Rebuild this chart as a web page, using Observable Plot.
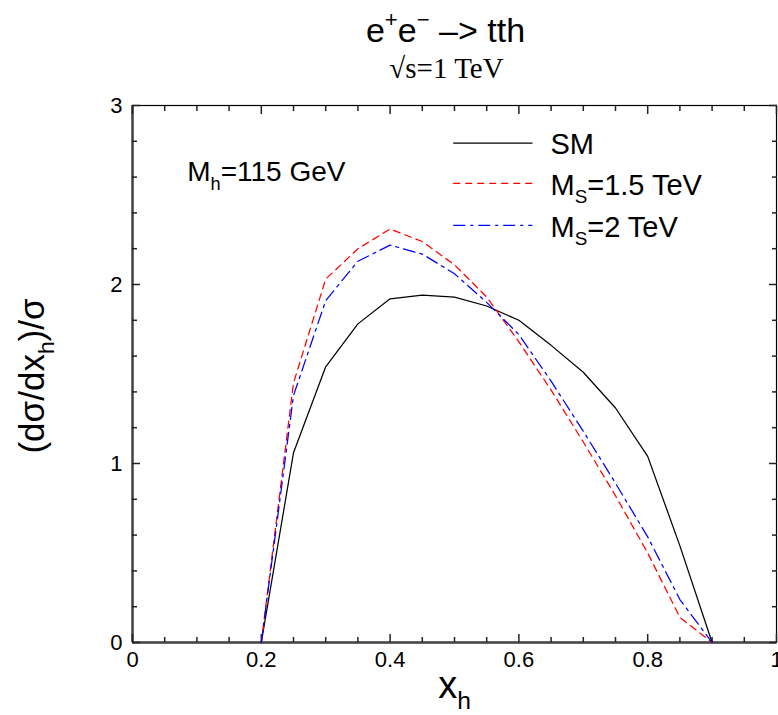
<!DOCTYPE html>
<html><head><meta charset="utf-8">
<script src="https://cdn.jsdelivr.net/npm/d3@7"></script>
<script src="https://cdn.jsdelivr.net/npm/@observablehq/plot@0.6"></script>
<style>body{margin:0;background:#fff} svg{display:block}</style>
</head><body><div id="chart"></div>
<script>
// ---- data ----
const xh = [0.2, 0.25, 0.3, 0.35, 0.4, 0.45, 0.5, 0.55, 0.6, 0.65, 0.7, 0.75, 0.8, 0.85, 0.9];
const smValues   = [0, 1.06, 1.54, 1.78, 1.92, 1.94, 1.93, 1.88, 1.80, 1.66, 1.51, 1.31, 1.04, 0.54, 0];
const ms15Values = [0, 1.45, 2.03, 2.20, 2.31, 2.24, 2.11, 1.93, 1.68, 1.41, 1.12, 0.82, 0.50, 0.14, 0];
const ms2Values  = [0, 1.38, 1.91, 2.13, 2.22, 2.17, 2.06, 1.90, 1.72, 1.46, 1.18, 0.89, 0.59, 0.24, 0];
const seriesNames = ["SM", "M_{S}=1.5 TeV", "M_{S}=2 TeV"];
const xTicks = [0, 0.2, 0.4, 0.6, 0.8, 1];
const xMinorTicks = [0.05, 0.1, 0.15, 0.25, 0.3, 0.35, 0.45, 0.5, 0.55, 0.65, 0.7, 0.75, 0.85, 0.9, 0.95];
const yTicks = [0, 1, 2, 3];
const yMinorTicks = [0.2, 0.4, 0.6, 0.8, 1.2, 1.4, 1.6, 1.8, 2.2, 2.4, 2.6, 2.8];
const titleText = "e^{+}e^{−} –> tth";
const subtitleText = "√s=1 TeV";
const massLabel = "M_{h}=115 GeV";
const xLabel = "x_{h}";
const yLabel = "(dσ/dx_{h})/σ";

// ---- build table ----
const seriesValues = [smValues, ms15Values, ms2Values];
const rows = seriesNames.flatMap((name, i) => xh.map((x, j) => ({series: name, x, y: seriesValues[i][j]})));
const styles = [
  {stroke: "#000000", strokeDasharray: null},
  {stroke: "#ff0000", strokeDasharray: "7,5"},
  {stroke: "#0000ff", strokeDasharray: "12,5,3,5"}
];
const legendY = [2.79, 2.565, 2.33];
const legendRows = seriesNames.map((name, i) => ({name, y: legendY[i], i}));

const font = "'Liberation Sans', Arial, Helvetica, sans-serif";
const majorLen = 8, minorLen = 5;
const tk = {fill: "none", label: null, stroke: "#222", strokeWidth: 1.5};

const lineMarks = seriesNames.map((name, i) =>
  Plot.line(rows.filter(d => d.series === name), {
    x: "x", y: "y", stroke: styles[i].stroke, strokeWidth: 1.25,
    strokeDasharray: styles[i].strokeDasharray, strokeLinejoin: "miter"
  }));
const legendLines = legendRows.map(r =>
  Plot.link([r], {x1: () => 0.498, x2: () => 0.621, y1: "y", y2: "y",
    stroke: styles[r.i].stroke, strokeWidth: 1.25, strokeDasharray: styles[r.i].strokeDasharray}));

const chart = Plot.plot({
  width: 778, height: 715,
  marginLeft: 132, marginRight: 2, marginTop: 105, marginBottom: 73,
  x: {domain: [0, 1]},
  y: {domain: [0, 3]},
  style: {fontFamily: font, background: "white", overflow: "visible", color: "black"},
  marks: [
    Plot.frame({stroke: "black", strokeWidth: 1.2}),
    Plot.ruleX([0], {stroke: "#444", strokeWidth: 2.5}),
    Plot.ruleY([0], {stroke: "#444", strokeWidth: 2.5}),
    // inward ticks on all four sides
    Plot.axisX(xMinorTicks, {anchor: "bottom", tickSize: -minorLen, ...tk}),
    Plot.axisX(xTicks, {anchor: "bottom", tickSize: -majorLen, ...tk}),
    Plot.axisX(xMinorTicks, {anchor: "top", tickSize: -minorLen, ...tk}),
    Plot.axisX(xTicks, {anchor: "top", tickSize: -majorLen, ...tk}),
    Plot.axisY(yMinorTicks, {anchor: "left", tickSize: -minorLen, ...tk}),
    Plot.axisY(yTicks, {anchor: "left", tickSize: -majorLen, ...tk}),
    Plot.axisY(yMinorTicks, {anchor: "right", tickSize: -minorLen, ...tk}),
    Plot.axisY(yTicks, {anchor: "right", tickSize: -majorLen, ...tk}),
    // tick labels
    Plot.axisX(xTicks, {anchor: "bottom", tickSize: 0, tickPadding: 9, fontSize: 22, tickFormat: d => String(d), label: null}),
    Plot.axisY(yTicks, {anchor: "left", tickSize: 0, tickPadding: 10, fontSize: 22, tickFormat: d => String(d), label: null}),
    ...lineMarks,
    ...legendLines,
    Plot.text(legendRows, {x: () => 0.649, y: "y", text: "name", textAnchor: "start", lineAnchor: "middle", fontSize: 29, dy: 2}),
    Plot.text([massLabel], {x: () => 0.085, y: () => 2.626, text: d => d, textAnchor: "start", lineAnchor: "middle", fontSize: 28}),
    Plot.text([titleText], {frameAnchor: "top", text: d => d, textAnchor: "middle", lineAnchor: "middle", fontSize: 34, dx: -9, dy: -74}),
    Plot.text([subtitleText], {frameAnchor: "top", text: d => d, textAnchor: "middle", lineAnchor: "middle", fontSize: 29, fontFamily: "'Liberation Serif', 'Times New Roman', serif", dx: -8, dy: -37}),
    Plot.text([xLabel], {frameAnchor: "bottom", text: d => d, textAnchor: "middle", lineAnchor: "middle", fontSize: 38, dy: 43}),
    Plot.text([yLabel], {frameAnchor: "left", text: d => d, textAnchor: "middle", lineAnchor: "middle", fontSize: 35, rotate: -90, dx: -100, dy: 2})
  ]
});

// rich text: sub/superscripts as tspans
function richText(svg) {
  svg.querySelectorAll("text").forEach(t => {
    const s = t.textContent;
    if (!/[_^]\{/.test(s)) return;
    t.textContent = "";
    const re = /([_^])\{([^}]*)\}|([^_^]+)/g;
    let m, pending = 0;
    while ((m = re.exec(s))) {
      const ts = document.createElementNS("http://www.w3.org/2000/svg", "tspan");
      if (m[1]) {
        const scale = 0.65;
        const shift = m[1] === "_" ? 0.3 : -0.45; // in parent em
        ts.textContent = m[2];
        ts.setAttribute("font-size", (scale * 100) + "%");
        ts.setAttribute("dy", (shift / scale - pending / scale).toFixed(3) + "em");
        pending = shift;
      } else {
        ts.textContent = m[3];
        if (pending) ts.setAttribute("dy", (-pending).toFixed(3) + "em");
        pending = 0;
      }
      t.appendChild(ts);
    }
  });
}
richText(chart);
document.getElementById("chart").appendChild(chart);
</script>
</body></html>
